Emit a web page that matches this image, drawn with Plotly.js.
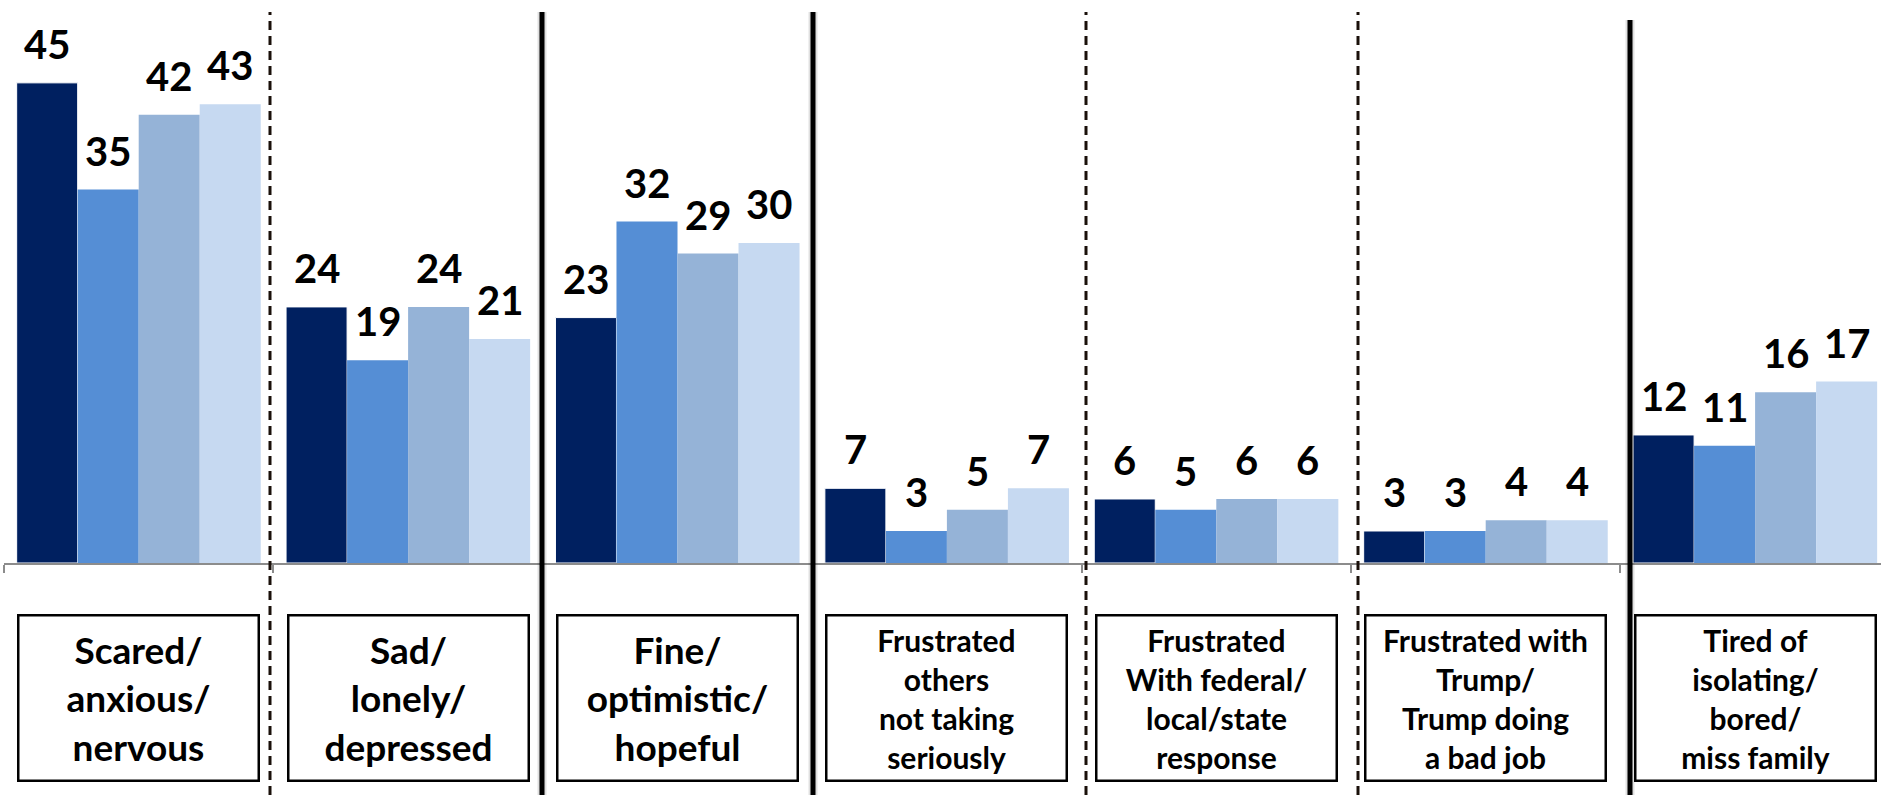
<!DOCTYPE html>
<html><head><meta charset="utf-8">
<script src="https://cdn.plot.ly/plotly-3.0.1.min.js"></script>
<style>html,body{margin:0;padding:0;background:#fff;}#chart{width:1881px;height:795px;}</style>
</head><body><div id="chart"></div>
<script>
// ---- data ----
const categories = [
  'Scared/anxious/nervous',
  'Sad/lonely/depressed',
  'Fine/optimistic/hopeful',
  'Frustrated others not taking seriously',
  'Frustrated With federal/local/state response',
  'Frustrated with Trump/Trump doing a bad job',
  'Tired of isolating/bored/miss family'
];
const categoryLabels = [
  'Scared/<br>anxious/<br>nervous',
  'Sad/<br>lonely/<br>depressed',
  'Fine/<br>optimistic/<br>hopeful',
  'Frustrated<br>others<br>not taking<br>seriously',
  'Frustrated<br>With federal/<br>local/state<br>response',
  'Frustrated with<br>Trump/<br>Trump doing<br>a bad job',
  'Tired of<br>isolating/<br>bored/<br>miss family'
];
const series1 = [45, 24, 23, 7, 6, 3, 12];
const series2 = [35, 19, 32, 3, 5, 3, 11];
const series3 = [42, 24, 29, 5, 6, 4, 16];
const series4 = [43, 21, 30, 7, 6, 4, 17];
const seriesNames = ['Series 1', 'Series 2', 'Series 3', 'Series 4'];

// ---- style ----
const seriesColors = ['#002060', '#558ED5', '#95B3D7', '#C6D9F1'];
const allSeries = [series1, series2, series3, series4];
const W = 1881, H = 795;
const M = {l: 4, r: 0, t: 30, b: 232};
const catPx = 269.4;
const xRange = [-0.5, -0.5 + (W - M.l - M.r) / catPx];
const bargap = 0.094;
const fontFam = 'Lato, "Open Sans", sans-serif';

const traces = allSeries.map((vals, j) => ({
  type: 'bar',
  name: seriesNames[j],
  x: categories,
  y: vals,
  marker: {color: seriesColors[j], line: {width: j === 0 ? 1 : 0, color: '#ffffff'}},
  hoverinfo: 'y'
}));

const plotH = H - M.t - M.b;
const pageYToPaper = py => (H - M.b - py) / plotH;
const pageXToPaper = px => (px - M.l) / (W - M.l - M.r);

// separators: [page x, dashed?, top page y]
const separators = [
  [270, true, 12], [542, false, 12], [813, false, 12],
  [1086, true, 12], [1358, true, 12], [1630, false, 20]
];
const shapes = [];
separators.forEach(([px, dashed, top]) => {
  const x = pageXToPaper(px);
  if (!dashed) {
    shapes.push({type: 'line', xref: 'paper', yref: 'paper', x0: x, x1: x,
      y0: pageYToPaper(H), y1: pageYToPaper(top),
      line: {color: 'rgba(0,0,0,0.12)', width: 9}});
    shapes.push({type: 'line', xref: 'paper', yref: 'paper', x0: x, x1: x,
      y0: pageYToPaper(H), y1: pageYToPaper(top),
      line: {color: '#000000', width: 5}});
  } else {
    shapes.push({type: 'line', xref: 'paper', yref: 'paper', x0: x, x1: x,
      y0: pageYToPaper(H), y1: pageYToPaper(top),
      line: {color: '#1a100a', width: 3, dash: '9px,6px'}});
  }
});

const annotations = [];
const bw = (1 - bargap) / allSeries.length;
allSeries.forEach((vals, j) => {
  vals.forEach((v, i) => {
    annotations.push({
      x: i + (j - (allSeries.length - 1) / 2) * bw, xref: 'x',
      y: v, yref: 'y', yanchor: 'bottom', xanchor: 'center',
      yshift: 13, showarrow: false,
      text: String(v),
      font: {family: fontFam, size: 40, color: '#000000', weight: 'bold'}
    });
  });
});
categoryLabels.forEach((lab, i) => {
  annotations.push({
    x: i, xref: 'x', y: pageYToPaper(698), yref: 'paper',
    xanchor: 'center', yanchor: 'middle',
    width: 236, height: 161, borderpad: 1,
    bordercolor: '#000000', borderwidth: 2.5, bgcolor: '#ffffff',
    align: 'center', valign: 'middle', showarrow: false,
    text: lab,
    font: {family: fontFam, size: i < 3 ? 37 : 30, color: '#000000', weight: 'bold'}
  });
});

const layout = {
  width: W, height: H, autosize: false,
  margin: M,
  paper_bgcolor: '#ffffff', plot_bgcolor: '#ffffff',
  showlegend: false,
  barmode: 'group', bargap: bargap, bargroupgap: 0,
  xaxis: {
    type: 'category', range: xRange, fixedrange: true,
    showgrid: false, zeroline: false,
    showline: true, linecolor: '#8c8c8c', linewidth: 2,
    ticks: 'outside', tickson: 'boundaries', ticklen: 8, tickwidth: 2, tickcolor: '#8c8c8c',
    showticklabels: false
  },
  yaxis: {
    range: [0, plotH / 10.67], fixedrange: true,
    showgrid: false, zeroline: false, showline: false,
    showticklabels: false, ticks: ''
  },
  shapes: shapes,
  annotations: annotations
};

Plotly.newPlot('chart', traces, layout, {displayModeBar: false, staticPlot: true});
</script>
</body></html>
